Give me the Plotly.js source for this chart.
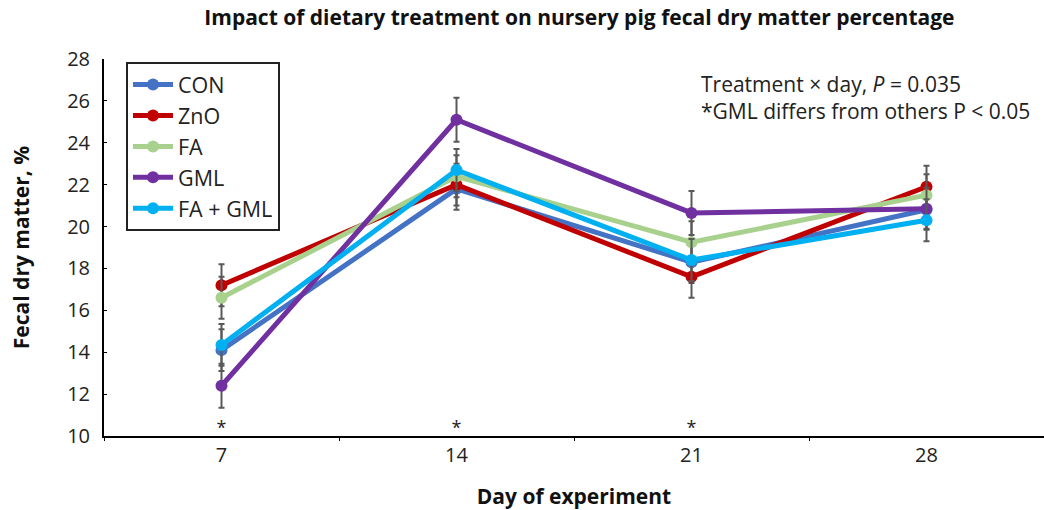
<!DOCTYPE html>
<html>
<head>
<meta charset="utf-8">
<script src="https://cdn.plot.ly/plotly-3.0.1.min.js"></script>
<style>html,body{margin:0;padding:0;background:#fff;}#chart{width:1044px;height:510px;}</style>
</head>
<body>
<div id="chart"></div>
<script>
const days = ['7', '14', '21', '28'];
const seriesNames = ['CON', 'ZnO', 'FA', 'GML', 'FA + GML'];
const conValues = [14.1, 21.8, 18.3, 20.8];
const znoValues = [17.2, 22.0, 17.6, 21.9];
const faValues = [16.6, 22.4, 19.25, 21.5];
const gmlValues = [12.4, 25.1, 20.65, 20.85];
const faGmlValues = [14.35, 22.7, 18.4, 20.3];
const conErr = [1.0, 1.0, 1.0, 0.9];
const znoErr = [1.0, 1.0, 1.0, 1.0];
const faErr = [1.0, 1.0, 1.0, 1.0];
const gmlErr = [1.05, 1.05, 1.05, 1.0];
const faGmlErr = [1.0, 1.0, 1.0, 1.0];
const starDays = ['7', '14', '21'];
const starLevel = [10.3, 10.3, 10.3];
const colors = ['#4472C4', '#C00000', '#A9D18E', '#7030A0', '#00B0F0'];

const allValues = [conValues, znoValues, faValues, gmlValues, faGmlValues];
const allErr = [conErr, znoErr, faErr, gmlErr, faGmlErr];
const FONT = '"Open Sans", "Liberation Sans", sans-serif';

const traces = seriesNames.map((n, i) => ({
  type: 'scatter', mode: 'lines+markers', name: n,
  x: days, y: allValues[i],
  line: {color: colors[i], width: 5},
  marker: {color: colors[i], size: 12},
  error_y: {type: 'data', array: allErr[i], visible: true, color: '#595959', thickness: 2, width: 3}
}));
traces.push({
  type: 'scatter', mode: 'text', x: starDays, y: starLevel, text: starDays.map(() => '*'),
  textposition: 'middle center', showlegend: false, hoverinfo: 'skip',
  textfont: {family: FONT, size: 18, color: '#222'}, cliponaxis: false
});

const annotations = [{
  xref: 'paper', yref: 'paper', x: 0.633, y: 0.975, xanchor: 'left', yanchor: 'top', align: 'left',
  showarrow: false,
  text: 'Treatment × day, <i>P</i> = 0.035<br>*GML differs from others P &lt; 0.05',
  font: {family: FONT, size: 21, color: '#222'}
}];

const layout = {
  width: 1044, height: 510,
  margin: {l: 104, r: 0, t: 59, b: 74},
  paper_bgcolor: '#fff', plot_bgcolor: '#fff',
  font: {family: FONT, size: 20, color: '#222'},
  title: {text: '<b>Impact of dietary treatment on nursery pig fecal dry matter percentage</b>',
    x: 0.555, xanchor: 'center', y: 0.965, yanchor: 'middle',
    font: {family: FONT, size: 21, color: '#111'}},
  xaxis: {type: 'category', categoryorder: 'array', categoryarray: days, range: [-0.5, 3.5],
    showline: true, linecolor: '#000', linewidth: 2, showgrid: false, zeroline: false,
    ticks: 'outside', ticklen: 3, tickcolor: '#000', tickson: 'boundaries',
    tickfont: {family: FONT, size: 20, color: '#222'},
    title: {text: '<b>Day of experiment</b>', font: {family: FONT, size: 21, color: '#111'}, standoff: 22}},
  yaxis: {range: [10, 28], dtick: 2, showline: true, linecolor: '#000', linewidth: 2,
    showgrid: false, zeroline: false, ticks: 'inside', ticklen: 3, tickcolor: '#000',
    tickfont: {family: FONT, size: 20, color: '#222'}, ticklabelstandoff: 8,
    title: {text: '<b>Fecal dry matter, %</b>', font: {family: FONT, size: 21, color: '#111'}, standoff: 32}},
  legend: {x: 0.0234, y: 0.992, xanchor: 'left', yanchor: 'top', bordercolor: '#222', borderwidth: 2,
    bgcolor: '#fff', font: {family: FONT, size: 21.5, color: '#222'}, tracegroupgap: 0,
    itemwidth: 40},
  showlegend: true,
  annotations: annotations
};

Plotly.newPlot('chart', traces, layout, {displayModeBar: false, staticPlot: true});
</script>
</body>
</html>
